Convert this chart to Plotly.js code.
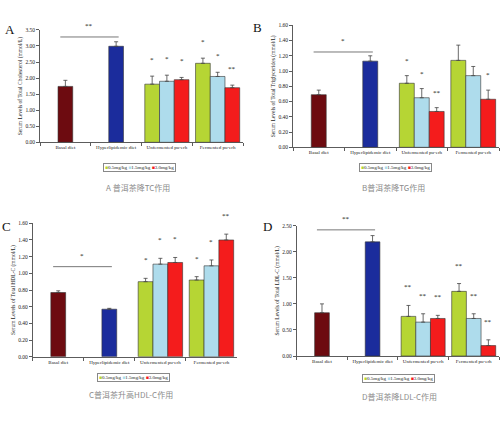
<!DOCTYPE html>
<html><head><meta charset="utf-8">
<script src="https://cdn.plot.ly/plotly-3.0.1.min.js"></script>
<style>html,body{margin:0;padding:0;background:#fff}#chart{width:500px;height:424px}</style>
</head><body><div id="chart"></div>
<script>
// ---------- data ----------
const categories = ["Basal diet", "Hyperlipidemic diet", "Unfermented pu-erh", "Fermented pu-erh"];
const doseLabels = ["0.5mg/kg", "1.5mg/kg", "3.0mg/kg"];

// A: Total Cholesterol
const tcCtrl = [1.74, 2.99];  const tcCtrlErr = [0.19, 0.14];
const tcLow  = [1.81, 2.46];  const tcLowErr  = [0.25, 0.16];
const tcMid  = [1.90, 2.05];  const tcMidErr  = [0.19, 0.13];
const tcHigh = [1.95, 1.70];  const tcHighErr = [0.07, 0.08];
const tcSig  = ["**", ["*", "*"], ["*", "*"], ["*", "**"]];

// B: Triglycerides
const tgCtrl = [0.69, 1.13];  const tgCtrlErr = [0.06, 0.07];
const tgLow  = [0.84, 1.14];  const tgLowErr  = [0.10, 0.20];
const tgMid  = [0.65, 0.94];  const tgMidErr  = [0.12, 0.12];
const tgHigh = [0.47, 0.63];  const tgHighErr = [0.05, 0.12];
const tgSig  = ["*", ["*", ""], ["*", ""], ["**", "*"]];

// C: HDL-C
const hdlCtrl = [0.77, 0.57]; const hdlCtrlErr = [0.02, 0.01];
const hdlLow  = [0.90, 0.92]; const hdlLowErr  = [0.04, 0.04];
const hdlMid  = [1.11, 1.09]; const hdlMidErr  = [0.07, 0.07];
const hdlHigh = [1.13, 1.40]; const hdlHighErr = [0.06, 0.07];
const hdlSig  = ["*", ["*", "*"], ["*", "*"], ["*", "**"]];

// D: LDL-C
const ldlCtrl = [0.83, 2.19]; const ldlCtrlErr = [0.17, 0.12];
const ldlLow  = [0.76, 1.24]; const ldlLowErr  = [0.21, 0.15];
const ldlMid  = [0.65, 0.72]; const ldlMidErr  = [0.16, 0.09];
const ldlHigh = [0.72, 0.20]; const ldlHighErr = [0.06, 0.11];
const ldlSig  = ["**", ["**", "**"], ["**", "**"], ["**", "**"]];

const yTitles = [
  "Serum Levels of Total Cholesterol (mmol/L)",
  "Serum Levels of Total Triglycerides (mmol/L)",
  "Serum Levels of Total HDL-C (mmol/L)",
  "Serum Levels of Total LDL-C (mmol/L)"
];
const panelLetters = ["A", "B", "C", "D"];
const captions = ["A 普洱茶降TC作用", "B普洱茶降TG作用", "C普洱茶升高HDL-C作用", "D普洱茶降LDL-C作用"];

// ---------- styles / layout ----------
const ctrlColors = ["#6d0b10", "#1b2c9c"];
const doseColors = ["#b6d534", "#aedcec", "#f41c1c"];
const serif = "Liberation Serif, Times New Roman, serif";
const H = 424, W = 500;
const py = p => 1 - p / H;
const px = p => p / W;

const panels = [
  {ctrl: tcCtrl, ctrlErr: tcCtrlErr, dose: [tcLow, tcMid, tcHigh], doseErr: [tcLowErr, tcMidErr, tcHighErr], sig: tcSig,
   xd: [40, 243], yd: [142.3, 29.9], range: [0, 3.5], dtick: 0.5, bracketY: 3.28, starShift: 16,
   letter: [9.5, 29], legend: [139.5, 167], caption: [137.5, 187]},
  {ctrl: tgCtrl, ctrlErr: tgCtrlErr, dose: [tgLow, tgMid, tgHigh], doseErr: [tgLowErr, tgMidErr, tgHighErr], sig: tgSig,
   xd: [293, 499], yd: [147.3, 25.3], range: [0, 1.6], dtick: 0.2, bracketY: 1.25, starShift: 15,
   letter: [257.5, 27.5], legend: [395, 167], caption: [393, 187]},
  {ctrl: hdlCtrl, ctrlErr: hdlCtrlErr, dose: [hdlLow, hdlMid, hdlHigh], doseErr: [hdlLowErr, hdlMidErr, hdlHighErr], sig: hdlSig,
   xd: [32.7, 237], yd: [356.7, 223.3], range: [0, 1.6], dtick: 0.2, bracketY: 1.08, starShift: 18,
   letter: [6, 227], legend: [133, 377], caption: [131, 394.5]},
  {ctrl: ldlCtrl, ctrlErr: ldlCtrlErr, dose: [ldlLow, ldlMid, ldlHigh], doseErr: [ldlLowErr, ldlMidErr, ldlHighErr], sig: ldlSig,
   xd: [296.7, 499], yd: [356, 225.7], range: [0, 2.5], dtick: 0.5, bracketY: 2.42, starShift: 18,
   letter: [267.5, 227], legend: [398, 378.5], caption: [399, 396.5]}
];

const BW = 0.29;
const traces = [], annotations = [], shapes = [];
const layout = {
  width: W, height: H, margin: {l: 0, r: 0, t: 0, b: 0},
  paper_bgcolor: "#fff", plot_bgcolor: "#fff",
  barmode: "overlay", showlegend: false,
  font: {family: serif, color: "#222", size: 6}
};

panels.forEach((p, k) => {
  const n = k === 0 ? "" : String(k + 1);
  const xa = "x" + n, ya = "y" + n;
  layout["xaxis" + n] = {
    domain: [px(p.xd[0]), px(p.xd[1])], anchor: ya, type: "category",
    range: [-0.5, 3.5], categoryorder: "array", categoryarray: categories,
    tickson: "boundaries", ticks: "outside", ticklen: 3, tickwidth: 0.8, tickcolor: "#333",
    showline: true, linecolor: "#333", linewidth: 0.8, showgrid: false, zeroline: false,
    tickangle: 0, automargin: false,
    tickfont: {family: serif, size: 5, color: "#222"}, fixedrange: true
  };
  layout["yaxis" + n] = {
    domain: [py(p.yd[0]), py(p.yd[1])], anchor: xa, range: p.range, dtick: p.dtick,
    tickformat: ".2f", ticks: "outside", ticklen: 3, tickwidth: 0.8, tickcolor: "#333",
    showline: true, linecolor: "#333", linewidth: 0.8, showgrid: false, zeroline: false,
    tickfont: {family: serif, size: 5.5, color: "#222"},
    title: {text: yTitles[k], font: {family: serif, size: 5.5, color: "#222"}, standoff: 2},
    fixedrange: true
  };
  const errStyle = {type: "data", symmetric: false, color: "#444", thickness: 0.8, width: 2};
  traces.push({
    type: "bar", xaxis: xa, yaxis: ya, x: categories.slice(0, 2), y: p.ctrl,
    width: BW, offset: -BW / 2,
    marker: {color: ctrlColors, line: {color: "#333", width: 0.6}},
    error_y: Object.assign({array: p.ctrlErr, arrayminus: p.ctrlErr.map(() => 0)}, errStyle),
    hoverinfo: "y"
  });
  p.dose.forEach((vals, i) => {
    traces.push({
      type: "bar", xaxis: xa, yaxis: ya, name: doseLabels[i], x: categories.slice(2), y: vals,
      width: BW, offset: -1.5 * BW + i * BW,
      marker: {color: doseColors[i], line: {color: "#333", width: 0.6}},
      error_y: Object.assign({array: p.doseErr[i], arrayminus: vals.map(() => 0)}, errStyle),
      hoverinfo: "y"
    });
  });
  // significance bracket between basal and hyperlipidemic diet
  shapes.push({type: "line", xref: xa, yref: ya, x0: -0.1, x1: 1.05, y0: p.bracketY, y1: p.bracketY,
               line: {color: "#777", width: 1}});
  annotations.push({xref: xa, yref: ya, x: 0.47, y: p.bracketY, text: p.sig[0], showarrow: false,
                    xanchor: "center", yshift: 11, font: {family: serif, size: 7, color: "#111"}});
  // stars above treatment bars
  p.dose.forEach((vals, i) => {
    vals.forEach((v, j) => {
      const s = p.sig[i + 1][j];
      if (!s) return;
      annotations.push({xref: xa, yref: ya, x: 2 + j + (i - 1) * BW, y: v + p.doseErr[i][j], text: s,
                        showarrow: false, xanchor: "center", yshift: p.starShift,
                        font: {family: serif, size: 7, color: "#111"}});
    });
  });
  // panel letter
  annotations.push({xref: "paper", yref: "paper", x: px(p.letter[0]), y: py(p.letter[1]), text: panelLetters[k],
                    showarrow: false, xanchor: "center", yanchor: "middle",
                    font: {family: serif, size: 13, color: "#111"}});
  // legend box
  const legendText = doseLabels.map((d, i) => '<span style="color:' + doseColors[i] + '">■</span>' + d).join(" ");
  annotations.push({xref: "paper", yref: "paper", x: px(p.legend[0]), y: py(p.legend[1]), text: legendText,
                    showarrow: false, xanchor: "center", yanchor: "middle",
                    bordercolor: "#888", borderwidth: 1, borderpad: 1, bgcolor: "#fff",
                    font: {family: serif, size: 5, color: "#222"}});
  // caption
  annotations.push({xref: "paper", yref: "paper", x: px(p.caption[0]), y: py(p.caption[1]), text: captions[k],
                    showarrow: false, xanchor: "center", yanchor: "middle",
                    font: {family: "Noto Sans CJK SC, sans-serif", size: 8, color: "#8c8c8c"}});
});
layout.annotations = annotations;
layout.shapes = shapes;

Plotly.newPlot("chart", traces, layout, {displayModeBar: false, staticPlot: true});
</script>
</body></html>
